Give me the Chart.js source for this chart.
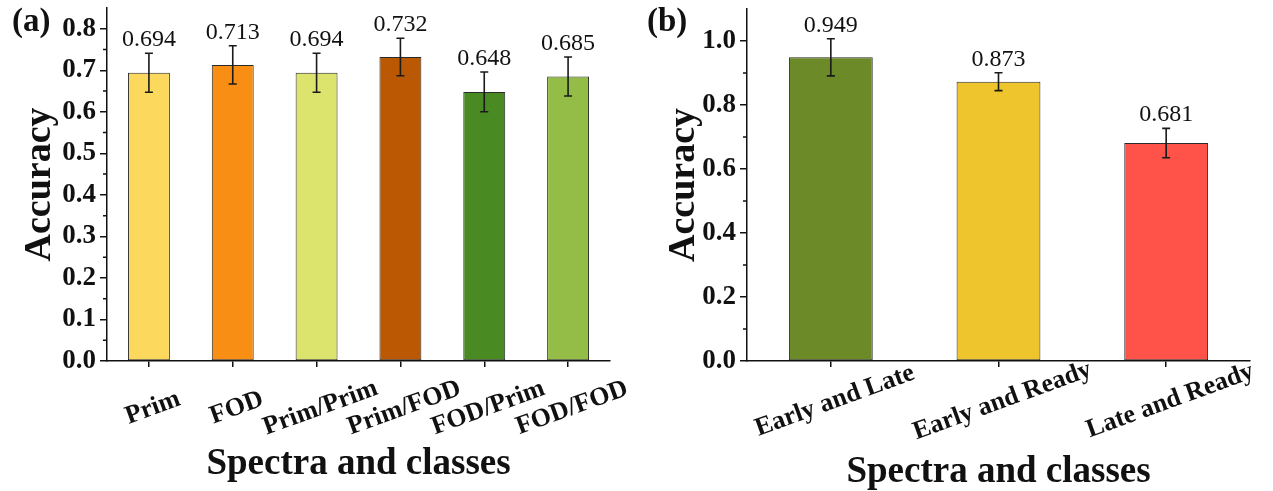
<!DOCTYPE html>
<html>
<head>
<meta charset="utf-8">
<title>Accuracy by spectra and classes</title>
<script src="https://cdn.jsdelivr.net/npm/chart.js@4.4.1/dist/chart.umd.min.js"></script>
<style>
  html, body { margin: 0; padding: 0; background: #ffffff; }
  #wrap { position: relative; width: 1273px; height: 491px; overflow: hidden; }
  canvas { position: absolute; top: 0; }
  #panelA { left: 0; }
  #panelB { left: 636px; }
</style>
</head>
<body>
<div id="wrap">
  <canvas id="panelA" width="636" height="491"></canvas>
  <canvas id="panelB" width="637" height="491"></canvas>
</div>
<script>
// (a) accuracy per spectral preprocessing
const spectraLabels   = ['Prim', 'FOD', 'Prim/Prim', 'Prim/FOD', 'FOD/Prim', 'FOD/FOD'];
const spectraAccuracy = [0.694, 0.713, 0.694, 0.732, 0.648, 0.685];
const spectraError    = [0.047, 0.046, 0.047, 0.045, 0.048, 0.047];
const spectraColors   = ['#FCD95C', '#F98E14', '#DDE46E', '#BB5804', '#4A8A22', '#94BD48'];
const spectraAxis     = [0.0, 0.85, 0.1, 0.05];   // min, max, major step, minor step

// (b) accuracy per pair of ripening classes
const stageLabels   = ['Early and Late', 'Early and Ready', 'Late and Ready'];
const stageAccuracy = [0.949, 0.873, 0.681];
const stageError    = [0.058, 0.028, 0.046];
const stageColors   = ['#6C8A28', '#EEC52D', '#FF5349'];
const stageAxis     = [0.0, 1.1, 0.2, 0.1];

const SERIF = '"Liberation Serif", "Times New Roman", serif';
const INK = '#111111';

// Error bars, value labels, minor ticks, rotated category labels and panel tag
const panelDecor = {
  id: 'panelDecor',
  afterDatasetsDraw(chart, args, opts) {
    const ctx = chart.ctx;
    const yScale = chart.scales.y;
    const meta = chart.getDatasetMeta(0);
    const values = chart.data.datasets[0].data;
    ctx.save();
    meta.data.forEach((bar, i) => {
      const v = values[i], e = opts.errors[i];
      const yt = yScale.getPixelForValue(v + e);
      const yb = yScale.getPixelForValue(v - e);
      ctx.strokeStyle = '#1a1a1a';
      ctx.lineWidth = 1.6;
      ctx.beginPath();
      ctx.moveTo(bar.x, yt); ctx.lineTo(bar.x, yb);
      ctx.moveTo(bar.x - 4, yt); ctx.lineTo(bar.x + 4, yt);
      ctx.moveTo(bar.x - 4, yb); ctx.lineTo(bar.x + 4, yb);
      ctx.stroke();
      ctx.fillStyle = INK;
      ctx.font = '24px ' + SERIF;
      ctx.textAlign = 'center';
      ctx.textBaseline = 'alphabetic';
      ctx.fillText(v.toFixed(3), bar.x, yt - 7);
    });
    ctx.restore();
  },
  afterDraw(chart, args, opts) {
    const ctx = chart.ctx;
    const area = chart.chartArea;
    const xScale = chart.scales.x, yScale = chart.scales.y;
    ctx.save();
    // minor ticks on the value axis
    const n = Math.round((opts.axis[1] - opts.axis[0]) / opts.axis[3]);
    ctx.strokeStyle = INK;
    ctx.lineWidth = 1.5;
    ctx.beginPath();
    for (let k = 1; k < n; k += 2) {
      const py = yScale.getPixelForValue(opts.axis[0] + k * opts.axis[3]);
      ctx.moveTo(area.left - 4, py);
      ctx.lineTo(area.left, py);
    }
    ctx.stroke();
    // rotated category labels, centred under their ticks
    ctx.fillStyle = INK;
    ctx.font = 'bold 26px ' + SERIF;
    ctx.textAlign = 'center';
    ctx.textBaseline = 'middle';
    chart.data.labels.forEach((lab, i) => {
      ctx.save();
      ctx.translate(xScale.getPixelForValue(i) + opts.labelShift, area.bottom + opts.labelDrop);
      ctx.rotate(-opts.labelAngle * Math.PI / 180);
      ctx.fillText(lab, 0, 0);
      ctx.restore();
    });
    // panel tag
    ctx.font = 'bold 33px ' + SERIF;
    ctx.textAlign = 'left';
    ctx.textBaseline = 'alphabetic';
    ctx.fillText(opts.tag, opts.tagX, 31);
    ctx.restore();
  }
};

function buildPanel(id, labels, values, errors, colors, axis, cfg) {
  return new Chart(document.getElementById(id), {
    type: 'bar',
    data: {
      labels: labels,
      datasets: [{
        data: values,
        backgroundColor: colors,
        borderColor: '#2a2a2a',
        borderWidth: 1,
        borderSkipped: false,
        categoryPercentage: 1.0,
        barPercentage: 0.5
      }]
    },
    options: {
      responsive: false,
      animation: false,
      events: [],
      layout: { padding: { top: cfg.top, right: cfg.right, bottom: 0, left: 0 } },
      plugins: {
        legend: { display: false },
        tooltip: { enabled: false },
        panelDecor: {
          errors: errors, axis: axis, tag: cfg.tag, tagX: cfg.tagX,
          labelShift: 4, labelDrop: cfg.labelDrop, labelAngle: 20
        }
      },
      scales: {
        x: {
          offset: true,
          grid: { display: true, drawOnChartArea: false, drawTicks: true, offset: false,
                  tickLength: 6, color: INK, lineWidth: 1.5 },
          border: { display: true, color: INK, width: 1.5 },
          ticks: { display: false },
          title: { display: true, text: 'Spectra and classes', color: INK,
                   font: { family: SERIF, size: 37, weight: 'bold' },
                   padding: { top: 0, bottom: cfg.titleBottom } },
          afterFit(s) { s.height = 130; s.paddingLeft = 0; s.paddingRight = 0; }
        },
        y: {
          min: axis[0], max: axis[1],
          grid: { display: true, drawOnChartArea: false, drawTicks: true,
                  tickLength: 7, color: INK, lineWidth: 1.5 },
          border: { display: true, color: INK, width: 1.5 },
          ticks: {
            stepSize: axis[2], includeBounds: false, padding: 4, color: INK,
            font: { family: SERIF, size: 27, weight: 'bold' },
            callback: (v) => Number(v).toFixed(1)
          },
          title: { display: true, text: 'Accuracy', color: INK,
                   font: { family: SERIF, size: 38, weight: 'bold' },
                   padding: { top: cfg.titlePad, bottom: 0 } },
          afterFit(s) { s.width = cfg.yWidth; s.paddingTop = 0; s.paddingBottom = 0; }
        }
      }
    },
    plugins: [panelDecor]
  });
}

buildPanel('panelA', spectraLabels, spectraAccuracy, spectraError, spectraColors, spectraAxis,
  { top: 8, right: 26, yWidth: 107, tag: '(a)', tagX: 12, labelDrop: 47, titleBottom: 4, titlePad: 17 });
buildPanel('panelB', stageLabels, stageAccuracy, stageError, stageColors, stageAxis,
  { top: 9, right: 23, yWidth: 111, tag: '(b)', tagX: 11, labelDrop: 40, titleBottom: -4, titlePad: 25 });
</script>
</body>
</html>
